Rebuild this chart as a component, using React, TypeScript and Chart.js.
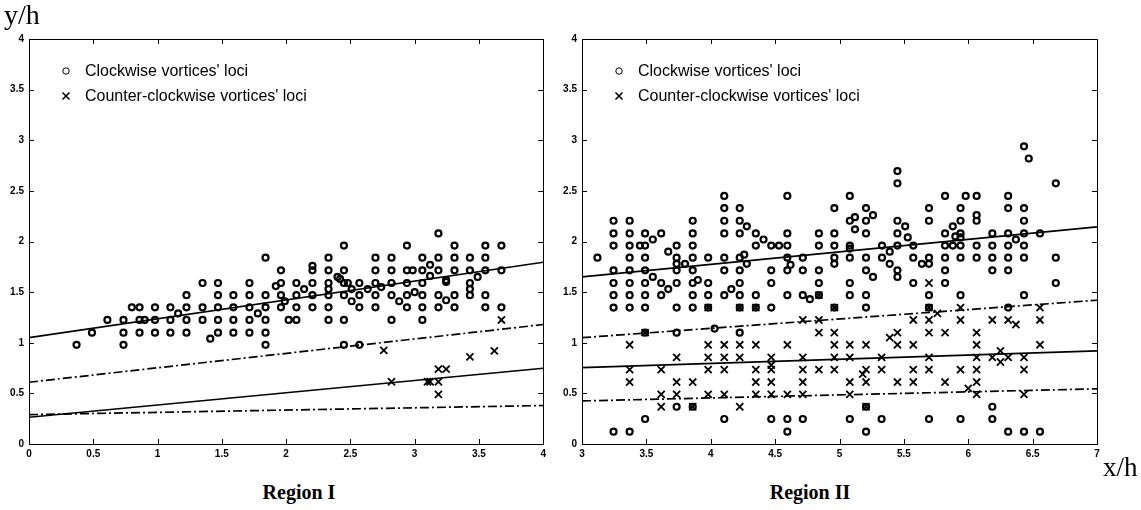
import React, { useEffect, useRef } from "react";
import Chart from "chart.js/auto";

// ---------- Region I data ----------
const region1Clockwise: [number, number][] = [
  [0.37, 0.98], [0.49, 1.10], [0.61, 1.225],
  [0.735, 1.225], [0.735, 1.10], [0.735, 0.98],
  [0.80, 1.35], [0.86, 1.35], [0.86, 1.225], [0.86, 1.10], [0.90, 1.225],
  [0.98, 1.35], [0.98, 1.225], [0.98, 1.10],
  [1.10, 1.35], [1.10, 1.225], [1.10, 1.10], [1.16, 1.29],
  [1.225, 1.47], [1.225, 1.35], [1.225, 1.225], [1.225, 1.10],
  [1.35, 1.59], [1.35, 1.35], [1.35, 1.225], [1.41, 1.04],
  [1.47, 1.59], [1.47, 1.47], [1.47, 1.35], [1.47, 1.225], [1.47, 1.10],
  [1.59, 1.47], [1.59, 1.35], [1.59, 1.225], [1.59, 1.10],
  [1.715, 1.59], [1.715, 1.47], [1.715, 1.35], [1.715, 1.225], [1.715, 1.10], [1.78, 1.29],
  [1.84, 1.84], [1.84, 1.47], [1.84, 1.35], [1.84, 1.225], [1.84, 1.10], [1.84, 0.98],
  [1.92, 1.56], [1.96, 1.59], [1.96, 1.715], [1.96, 1.47], [1.96, 1.35], [1.99, 1.41],
  [2.02, 1.225], [2.08, 1.225], [2.08, 1.35], [2.08, 1.47], [2.08, 1.59], [2.14, 1.53],
  [2.205, 1.715], [2.205, 1.76], [2.205, 1.59], [2.205, 1.47], [2.205, 1.35],
  [2.33, 1.84], [2.33, 1.715], [2.33, 1.59], [2.33, 1.53], [2.33, 1.47], [2.33, 1.35], [2.33, 1.225],
  [2.40, 1.65], [2.42, 1.63],
  [2.45, 1.96], [2.45, 1.715], [2.45, 1.59], [2.48, 1.59], [2.45, 1.47], [2.45, 1.225], [2.45, 0.98],
  [2.51, 1.53], [2.51, 1.41],
  [2.57, 1.59], [2.57, 1.47], [2.57, 1.35], [2.57, 0.98], [2.635, 1.53],
  [2.695, 1.84], [2.695, 1.715], [2.695, 1.59], [2.695, 1.47], [2.695, 1.35], [2.74, 1.55],
  [2.82, 1.84], [2.82, 1.715], [2.82, 1.59], [2.82, 1.47], [2.82, 1.225], [2.88, 1.41],
  [2.94, 1.96], [2.94, 1.715], [2.985, 1.715], [2.94, 1.59], [2.94, 1.47], [2.94, 1.35], [3.0, 1.50],
  [3.06, 1.84], [3.06, 1.715], [3.06, 1.59], [3.06, 1.47], [3.06, 1.35], [3.06, 1.225],
  [3.12, 1.77], [3.12, 1.66],
  [3.185, 2.08], [3.185, 1.84], [3.185, 1.715], [3.185, 1.47], [3.185, 1.35],
  [3.245, 1.62], [3.245, 1.60], [3.245, 1.42],
  [3.31, 1.96], [3.31, 1.84], [3.31, 1.715], [3.31, 1.47], [3.31, 1.35],
  [3.43, 1.84], [3.43, 1.715], [3.43, 1.59], [3.43, 1.53], [3.43, 1.47], [3.49, 1.65],
  [3.55, 1.96], [3.55, 1.84], [3.55, 1.715], [3.55, 1.47], [3.55, 1.35],
  [3.675, 1.96], [3.675, 1.715], [3.675, 1.35],
];
const region1Counter: [number, number][] = [
  [2.76, 0.925], [3.43, 0.86], [3.62, 0.92], [3.675, 1.225],
  [3.185, 0.74], [3.245, 0.74], [2.82, 0.615], [3.1, 0.615],
  [3.12, 0.615], [3.185, 0.615], [3.185, 0.49],
];
const region1UpperSolid: [number, number][] = [[0, 1.05], [4, 1.795]];
const region1UpperDashDot: [number, number][] = [[0, 0.61], [4, 1.18]];
const region1LowerSolid: [number, number][] = [[0, 0.264], [4, 0.748]];
const region1LowerDashDot: [number, number][] = [[0, 0.29], [4, 0.38]];
const region1XTicks = [0, 0.5, 1, 1.5, 2, 2.5, 3, 3.5, 4];

// ---------- Region II data ----------
const region2Clockwise: [number, number][] = [
  [3.12, 1.84],
  [3.245, 2.205], [3.245, 2.08], [3.245, 1.96], [3.245, 1.715], [3.245, 1.59], [3.245, 1.47],
  [3.37, 2.205], [3.37, 2.08], [3.37, 1.96], [3.37, 1.84], [3.37, 1.715], [3.37, 1.59], [3.37, 1.47],
  [3.45, 1.96],
  [3.49, 2.08], [3.49, 1.96], [3.49, 1.84], [3.49, 1.715], [3.49, 1.59], [3.49, 1.47],
  [3.55, 2.02], [3.55, 1.65], [3.615, 2.08], [3.615, 1.59], [3.615, 1.47], [3.67, 1.90], [3.67, 1.53],
  [3.735, 1.96], [3.735, 1.84], [3.735, 1.78], [3.735, 1.715], [3.735, 1.59], [3.80, 1.78],
  [3.86, 2.205], [3.86, 2.08], [3.86, 1.96], [3.86, 1.84], [3.86, 1.715], [3.86, 1.59], [3.86, 1.47], [3.90, 1.62],
  [3.98, 1.84], [3.98, 1.59], [3.98, 1.47],
  [4.105, 2.45], [4.105, 2.33], [4.105, 2.205], [4.105, 2.08], [4.105, 1.84], [4.105, 1.715], [4.105, 1.47],
  [4.16, 1.53],
  [4.225, 2.33], [4.225, 2.205], [4.225, 2.08], [4.225, 1.84], [4.225, 1.715], [4.225, 1.59], [4.225, 1.47],
  [4.26, 1.87], [4.28, 1.78], [4.28, 2.15],
  [4.35, 2.08], [4.35, 1.96], [4.35, 1.47], [4.41, 2.02],
  [4.47, 1.96], [4.47, 1.715], [4.47, 1.59], [4.53, 1.96],
  [4.595, 2.45], [4.595, 2.08], [4.595, 1.96], [4.595, 1.84], [4.595, 1.715], [4.595, 1.47], [4.62, 1.77],
  [4.715, 1.84], [4.715, 1.715], [4.715, 1.47], [4.77, 1.43],
  [4.84, 2.08], [4.84, 1.96], [4.84, 1.715], [4.84, 1.59], [4.84, 1.47],
  [4.96, 2.33], [4.96, 2.08], [4.96, 1.96], [4.96, 1.84], [4.96, 1.78],
  [5.08, 2.45], [5.08, 2.205], [5.08, 1.96], [5.08, 1.93], [5.08, 1.84], [5.08, 1.59], [5.08, 1.47],
  [5.12, 2.24], [5.12, 2.12],
  [5.206, 2.33], [5.206, 2.205], [5.206, 2.08], [5.206, 1.84], [5.206, 1.715], [5.206, 1.47],
  [5.26, 2.26], [5.26, 1.65],
  [5.33, 1.96], [5.33, 1.84], [5.39, 1.90], [5.39, 1.78],
  [5.45, 2.696], [5.45, 2.575], [5.45, 2.205], [5.45, 2.08], [5.45, 1.96], [5.45, 1.715], [5.45, 1.65],
  [5.51, 2.15], [5.53, 2.04],
  [5.573, 1.96], [5.573, 1.84], [5.573, 1.59], [5.64, 1.78],
  [5.695, 2.33], [5.695, 2.205], [5.695, 1.84], [5.695, 1.78], [5.695, 1.47],
  [5.82, 2.45], [5.82, 2.08], [5.82, 1.96], [5.82, 1.84], [5.82, 1.715], [5.82, 1.59],
  [5.88, 2.15], [5.90, 2.05], [5.88, 1.96],
  [5.94, 2.33], [5.94, 2.205], [5.94, 2.08], [5.94, 2.04], [5.94, 1.96], [5.94, 1.84], [5.94, 1.47],
  [5.98, 2.45],
  [6.065, 2.45], [6.065, 2.26], [6.065, 2.205], [6.065, 1.96], [6.065, 1.84],
  [6.187, 2.08], [6.187, 1.96], [6.187, 1.84], [6.187, 1.715],
  [6.31, 2.45], [6.31, 2.33], [6.31, 2.08], [6.31, 1.96], [6.31, 1.84], [6.31, 1.715], [6.37, 2.02],
  [6.433, 2.94], [6.47, 2.82], [6.433, 2.33], [6.433, 2.205], [6.433, 2.08], [6.433, 1.96], [6.433, 1.84], [6.433, 1.47],
  [6.557, 2.08], [6.68, 2.575], [6.68, 1.84], [6.68, 1.59],
  [3.245, 1.347], [3.37, 1.347], [3.49, 1.347], [3.735, 1.347], [3.86, 1.347], [3.98, 1.347],
  [4.225, 1.347], [4.35, 1.347], [4.47, 1.347], [4.96, 1.347], [5.206, 1.347], [5.695, 1.347], [6.31, 1.347],
  [3.49, 1.10], [3.735, 1.10], [4.03, 1.14], [4.225, 1.10],
  [3.735, 0.368], [3.86, 0.368], [5.206, 0.368], [6.187, 0.368],
  [3.49, 0.247], [4.105, 0.247], [4.47, 0.247], [4.595, 0.247], [4.715, 0.247], [5.08, 0.247],
  [5.327, 0.247], [5.695, 0.247], [5.94, 0.247], [6.187, 0.247],
  [3.245, 0.122], [3.37, 0.122], [4.595, 0.122], [5.206, 0.122], [6.31, 0.122], [6.433, 0.122], [6.557, 0.122],
];
const region2Counter: [number, number][] = [
  [5.695, 1.59],
  [4.715, 1.225], [4.84, 1.225], [4.84, 1.10], [4.96, 1.10],
  [3.37, 0.98], [3.98, 0.98], [4.105, 0.98], [4.225, 0.98], [4.35, 0.98], [4.595, 0.98], [4.96, 0.98],
  [3.735, 0.856], [3.98, 0.856], [4.105, 0.856], [4.225, 0.856], [4.47, 0.856], [4.715, 0.856], [4.96, 0.856],
  [3.37, 0.734], [3.615, 0.734], [3.98, 0.734], [4.105, 0.734], [4.35, 0.734], [4.47, 0.734],
  [4.715, 0.734], [4.84, 0.734], [4.96, 0.734], [4.47, 0.78],
  [3.37, 0.612], [3.735, 0.612], [3.86, 0.612], [4.35, 0.612], [4.47, 0.612], [4.715, 0.612],
  [3.615, 0.49], [3.735, 0.49], [3.98, 0.49], [4.105, 0.49], [4.35, 0.49], [4.47, 0.49], [4.595, 0.49], [4.715, 0.49],
  [3.615, 0.368], [4.225, 0.368],
  [3.49, 1.10], [3.86, 0.368], [5.206, 0.368], [3.98, 1.347], [4.225, 1.347], [4.35, 1.347], [4.96, 1.347],
  [4.84, 1.47], [5.695, 1.347],
  [5.94, 1.347], [6.557, 1.347], [5.76, 1.29],
  [5.573, 1.225], [5.695, 1.225], [5.94, 1.225], [6.187, 1.225], [6.31, 1.225], [6.557, 1.225], [6.37, 1.18],
  [5.45, 1.10], [5.695, 1.10], [5.82, 1.10], [6.065, 1.10], [5.39, 1.05],
  [5.08, 0.98], [5.206, 0.98], [5.45, 0.98], [5.573, 0.98], [6.065, 0.98], [6.557, 0.98], [6.25, 0.92],
  [5.08, 0.856], [5.327, 0.856], [5.695, 0.856], [6.065, 0.856], [6.187, 0.856], [6.31, 0.856], [6.433, 0.856], [6.25, 0.81],
  [5.206, 0.734], [5.327, 0.734], [5.573, 0.734], [5.695, 0.734], [5.94, 0.734], [6.065, 0.734], [6.433, 0.734],
  [5.18, 0.69],
  [5.08, 0.612], [5.206, 0.612], [5.45, 0.612], [5.573, 0.612], [5.82, 0.612], [6.065, 0.612], [6.0, 0.55],
  [5.08, 0.49], [6.065, 0.49], [6.433, 0.49],
];
const region2UpperSolid: [number, number][] = [[3, 1.65], [7, 2.145]];
const region2UpperDashDot: [number, number][] = [[3, 1.05], [7, 1.42]];
const region2LowerSolid: [number, number][] = [[3, 0.755], [7, 0.92]];
const region2LowerDashDot: [number, number][] = [[3, 0.425], [7, 0.545]];
const region2XTicks = [3, 3.5, 4, 4.5, 5, 5.5, 6, 6.5, 7];

const yTicks = [0, 0.5, 1, 1.5, 2, 2.5, 3, 3.5, 4];
const legendLabels = ["Clockwise vortices' loci", "Counter-clockwise vortices' loci"];

const TICK_FONT = { family: "'Liberation Sans', Arial, sans-serif", size: 10, weight: "bold" as const };

const framePlugin = {
  id: "frame",
  beforeDatasetsDraw(chart: any) {
    const { ctx, chartArea: a, scales } = chart;
    ctx.save();
    ctx.strokeStyle = "#000";
    ctx.lineWidth = 1;
    ctx.strokeRect(Math.round(a.left) + 0.5, Math.round(a.top) + 0.5, Math.round(a.right - a.left), Math.round(a.bottom - a.top));
    const tl = 5;
    ctx.beginPath();
    scales.x.ticks.forEach((t: any) => {
      const px = Math.round(scales.x.getPixelForValue(t.value)) + 0.5;
      ctx.moveTo(px, a.bottom);
      ctx.lineTo(px, a.bottom - tl);
      ctx.moveTo(px, a.top);
      ctx.lineTo(px, a.top + tl);
    });
    scales.y.ticks.forEach((t: any) => {
      const py = Math.round(scales.y.getPixelForValue(t.value)) + 0.5;
      ctx.moveTo(a.left, py);
      ctx.lineTo(a.left + tl, py);
      ctx.moveTo(a.right, py);
      ctx.lineTo(a.right - tl, py);
    });
    ctx.stroke();
    ctx.restore();
  },
  afterDraw(chart: any) {
    const { ctx, chartArea: a } = chart;
    ctx.save();
    const lx = a.left + 37;
    const ly1 = a.top + 32;
    const ly2 = a.top + 57;
    ctx.strokeStyle = "#000";
    ctx.lineWidth = 1;
    ctx.beginPath();
    ctx.arc(lx, ly1, 3.2, 0, Math.PI * 2);
    ctx.stroke();
    ctx.lineWidth = 1.6;
    ctx.beginPath();
    ctx.moveTo(lx - 3.5, ly2 - 3.5);
    ctx.lineTo(lx + 3.5, ly2 + 3.5);
    ctx.moveTo(lx + 3.5, ly2 - 3.5);
    ctx.lineTo(lx - 3.5, ly2 + 3.5);
    ctx.stroke();
    ctx.fillStyle = "#000";
    ctx.font = "16px 'Liberation Sans', Arial, sans-serif";
    ctx.textBaseline = "middle";
    ctx.fillText(legendLabels[0], lx + 19, ly1 + 1);
    ctx.fillText(legendLabels[1], lx + 19, ly2 + 1);
    ctx.restore();
  },
};

function toXY(pts: [number, number][]) {
  return pts.map(([x, y]) => ({ x, y }));
}

function lineDs(pts: [number, number][], dashed: boolean) {
  return {
    data: toXY(pts),
    showLine: true,
    borderColor: "#000",
    borderWidth: 1.7,
    borderDash: dashed ? [9, 3, 2, 3] : [],
    pointRadius: 0,
    fill: false,
  };
}

function makeConfig(
  cw: [number, number][],
  ccw: [number, number][],
  lines: [number, number][][],
  xTicks: number[],
  xmin: number,
  xmax: number,
  yAxisWidth: number,
  padRight: number
): any {
  return {
    type: "scatter",
    data: {
      datasets: [
        lineDs(lines[0], false),
        lineDs(lines[1], true),
        lineDs(lines[2], false),
        lineDs(lines[3], true),
        {
          data: toXY(cw),
          pointStyle: "circle",
          pointRadius: 3,
          borderWidth: 2.2,
          borderColor: "#000",
          backgroundColor: "rgba(0,0,0,0)",
        },
        {
          data: toXY(ccw),
          pointStyle: "crossRot",
          pointRadius: 5,
          borderWidth: 1.8,
          borderColor: "#000",
          backgroundColor: "rgba(0,0,0,0)",
        },
      ],
    },
    options: {
      animation: false,
      responsive: false,
      events: [],
      layout: { padding: { top: 39, right: padRight, bottom: 6, left: 0 } },
      plugins: { legend: { display: false }, tooltip: { enabled: false } },
      scales: {
        x: {
          type: "linear",
          min: xmin,
          max: xmax,
          afterBuildTicks: (axis: any) => {
            axis.ticks = xTicks.map((v) => ({ value: v }));
          },
          afterFit: (axis: any) => {
            axis.height = 20;
          },
          grid: { display: false, drawTicks: false },
          border: { display: false },
          ticks: {
            color: "#000",
            font: TICK_FONT,
            padding: 4,
            maxRotation: 0,
            autoSkip: false,
            callback: (v: any) => String(v),
          },
        },
        y: {
          type: "linear",
          min: 0,
          max: 4,
          afterBuildTicks: (axis: any) => {
            axis.ticks = yTicks.map((v) => ({ value: v }));
          },
          afterFit: (axis: any) => {
            axis.width = yAxisWidth;
          },
          grid: { display: false, drawTicks: false },
          border: { display: false },
          ticks: {
            color: "#000",
            font: TICK_FONT,
            padding: 5,
            autoSkip: false,
            callback: (v: any) => String(v),
          },
        },
      },
    },
    plugins: [framePlugin],
  };
}

export default function App() {
  const leftRef = useRef<HTMLCanvasElement>(null);
  const rightRef = useRef<HTMLCanvasElement>(null);

  useEffect(() => {
    const c1 = new Chart(
      leftRef.current as HTMLCanvasElement,
      makeConfig(
        region1Clockwise,
        region1Counter,
        [region1UpperSolid, region1UpperDashDot, region1LowerSolid, region1LowerDashDot],
        region1XTicks,
        0,
        4,
        29,
        6
      )
    );
    const c2 = new Chart(
      rightRef.current as HTMLCanvasElement,
      makeConfig(
        region2Clockwise,
        region2Counter,
        [region2UpperSolid, region2UpperDashDot, region2LowerSolid, region2LowerDashDot],
        region2XTicks,
        3,
        7,
        32,
        44
      )
    );
    return () => {
      c1.destroy();
      c2.destroy();
    };
  }, []);

  const serif = "'Liberation Serif', 'Times New Roman', serif";
  return (
    <div style={{ position: "absolute", left: 0, top: 0, width: 1141, height: 510, background: "#fff", overflow: "hidden" }}>
      <canvas ref={leftRef} width={550} height={470} style={{ position: "absolute", left: 0, top: 0, width: 550, height: 470 }} />
      <canvas ref={rightRef} width={591} height={470} style={{ position: "absolute", left: 550, top: 0, width: 591, height: 470 }} />
      <div style={{ position: "absolute", left: 4, top: 0, fontFamily: serif, fontSize: 28, lineHeight: "30px" }}>y/h</div>
      <div style={{ position: "absolute", left: 1103, top: 452, fontFamily: serif, fontSize: 27, lineHeight: "30px" }}>x/h</div>
      <div style={{ position: "absolute", left: 199, width: 200, top: 480, textAlign: "center", fontFamily: serif, fontSize: 20, fontWeight: "bold", lineHeight: "24px" }}>Region I</div>
      <div style={{ position: "absolute", left: 710, width: 200, top: 480, textAlign: "center", fontFamily: serif, fontSize: 20, fontWeight: "bold", lineHeight: "24px" }}>Region II</div>
    </div>
  );
}
